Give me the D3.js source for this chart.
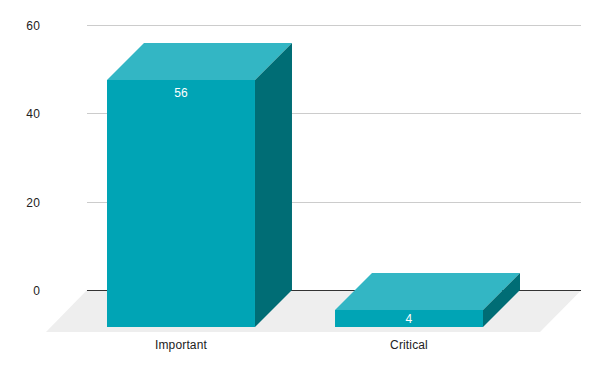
<!DOCTYPE html>
<html>
<head>
<meta charset="utf-8">
<script src="https://cdn.jsdelivr.net/npm/d3@7"></script>
<style>
    html, body { margin: 0; padding: 0; background: #fff; }
    text { font-family: "Liberation Sans", Arial, sans-serif; font-size: 12px; letter-spacing: 0.15px; }
</style>
</head>
<body>
<div id="chart"></div>
<script>
const categories = ["Important", "Critical"];
const values = [56, 4];
const yTicks = [0, 20, 40, 60];

const width = 600;
const height = 371;
const depth = 37; // how far the front of a bar sits from the back wall

const svg = d3.select("#chart")
    .append("svg")
    .attr("width", width)
    .attr("height", height)
    .style("display", "block");

// Scales, y is measured on the back wall
const y = d3.scaleLinear().domain([0, 60]).range([290, 25]);
const x = d3.scaleBand()
    .domain(categories)
    .range([107, 483])
    .paddingInner(0.351)
    .paddingOuter(0);

// Floor
svg.append("path")
    .attr("d", "M87,290L581.5,290L540,332L46,332Z")
    .attr("fill", "#eeeeee");

// Gridlines
svg.selectAll(".grid")
    .data(yTicks)
    .enter()
    .append("line")
    .attr("class", "grid")
    .attr("x1", 87)
    .attr("x2", 581)
    .attr("y1", d => Math.round(y(d)) + 0.5)
    .attr("y2", d => Math.round(y(d)) + 0.5)
    .attr("stroke", d => d === 0 ? "#333333" : "#cccccc")
    .attr("stroke-width", 1);

// Tick labels
svg.selectAll(".tick-label")
    .data(yTicks)
    .enter()
    .append("text")
    .attr("class", "tick-label")
    .attr("x", 40)
    .attr("y", d => Math.round(y(d)) + 5)
    .attr("text-anchor", "end")
    .attr("fill", "#222222")
    .text(d => d);

// Bars
const data = categories.map((c, i) => ({ category: c, value: values[i] }));
const bars = svg.selectAll(".bar")
    .data(data)
    .enter()
    .append("g")
    .attr("class", "bar");

// Top face
bars.append("path")
    .attr("fill", "#33b6c4")
    .attr("d", d => {
        const x0 = x(d.category), x1 = x0 + x.bandwidth();
        const top = Math.ceil(y(d.value));
        return `M${x0},${top + depth}L${x0 + depth},${top}L${x1 + depth},${top}L${x1},${top + depth}Z`;
    });

// Side face
bars.append("path")
    .attr("fill", "#006d75")
    .attr("d", d => {
        const x1 = x(d.category) + x.bandwidth();
        const top = Math.ceil(y(d.value));
        return `M${x1},${top + depth}L${x1 + depth},${top}L${x1 + depth},${y(0)}L${x1},${y(0) + depth}Z`;
    });

// Front face
bars.append("rect")
    .attr("fill", "#00a4b5")
    .attr("x", d => x(d.category))
    .attr("y", d => Math.ceil(y(d.value)) + depth)
    .attr("width", x.bandwidth())
    .attr("height", d => y(0) - Math.ceil(y(d.value)));

// Value labels, pulled to the middle of the front face when the bar is short
bars.append("text")
    .attr("x", d => x(d.category) + x.bandwidth() / 2)
    .attr("y", d => {
        const top = Math.ceil(y(d.value)) + depth;
        return Math.round(Math.min(top + 17, (top + y(0) + depth) / 2 + 4.5));
    })
    .attr("text-anchor", "middle")
    .attr("fill", "#ffffff")
    .text(d => d.value);

// Category labels
svg.selectAll(".cat-label")
    .data(categories)
    .enter()
    .append("text")
    .attr("class", "cat-label")
    .attr("x", d => x(d) + x.bandwidth() / 2)
    .attr("y", 349)
    .attr("text-anchor", "middle")
    .attr("fill", "#222222")
    .text(d => d);
</script>
</body>
</html>
